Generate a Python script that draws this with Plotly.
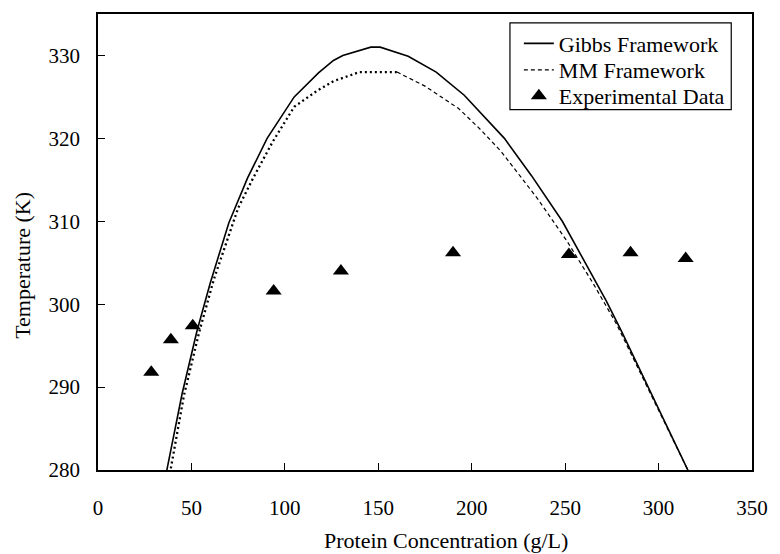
import plotly.graph_objects as go

# Gibbs framework curve
gibbs_x = [36.5, 45, 53, 60, 70, 80, 90.5, 105, 118, 126, 131, 146, 151, 166, 181, 196,
           217.5, 232, 248.5, 262, 272, 280, 294, 316.5]
gibbs_y = [279.6, 289.2, 296.8, 302.5, 309.8, 315.2, 320, 325, 327.9, 329.4, 330, 331, 331,
           329.9, 328, 325.2, 320, 315.5, 310, 304.5, 300.4, 296.8, 290.2, 279.6]

# MM framework curve: left (dotted) part and right (dashed) part
mm_left_x = [38.5, 46, 54, 62, 75, 83, 93.5, 105, 117, 126, 140, 160]
mm_left_y = [279.6, 289, 296.5, 303, 311.6, 315.2, 319.6, 323.8, 325.7, 326.9, 328, 328]
mm_right_x = [160, 175, 193, 205, 215.8, 235, 251, 265, 277.5, 295, 316.5]
mm_right_y = [328, 326.3, 323.6, 321, 318.4, 312.8, 307.6, 302.5, 297.6, 289.5, 279.6]

# Experimental data
exp_x = [28.5, 39, 50.7, 94, 130, 190, 252, 285, 314.5]
exp_y = [291.8, 295.7, 297.4, 301.6, 304, 306.2, 306, 306.2, 305.5]

x_ticks = [0, 50, 100, 150, 200, 250, 300, 350]
y_ticks = [280, 290, 300, 310, 320, 330]

FONT = "Liberation Serif, Times New Roman, serif"

# plot-area geometry (pixels) used to convert layout positions to paper coords
L, R, T, B = 98, 760, 12, 470
PW, PH = R - L, B - T


def px(x):
    return (x - L) / PW


def py(y):
    return (B - y) / PH


fig = go.Figure()
fig.add_trace(go.Scatter(x=gibbs_x, y=gibbs_y, mode="lines", name="Gibbs Framework",
                         legend="legend",
                         line=dict(color="black", width=1.6)))
fig.add_trace(go.Scatter(x=mm_right_x, y=mm_right_y, mode="lines", name="MM Framework",
                         legend="legend2",
                         line=dict(color="black", width=1.2, dash="4px,3px")))
fig.add_trace(go.Scatter(x=mm_left_x, y=mm_left_y, mode="lines", name="MM Framework",
                         showlegend=False,
                         line=dict(color="black", width=2.3, dash="2px,3px")))
fig.add_trace(go.Scatter(x=exp_x, y=exp_y, mode="markers", name="Experimental Data",
                         legend="legend3",
                         marker=dict(symbol="triangle-up", size=14, color="black")))

axis_common = dict(showgrid=False, zeroline=False, showline=True, linecolor="black",
                   linewidth=1.5, mirror=True, ticks="inside", ticklen=7,
                   tickwidth=1.3, tickcolor="black",
                   tickfont=dict(family=FONT, size=21, color="black"))

fig.update_xaxes(range=[0, 350], tickvals=x_ticks, ticklabelstandoff=18, **axis_common)
fig.update_yaxes(range=[280, 335], tickvals=y_ticks, ticklabelstandoff=12, **axis_common)

leg_common = dict(xanchor="left", yanchor="middle", bgcolor="rgba(0,0,0,0)",
                  borderwidth=0, font=dict(family=FONT, size=22, color="black"),
                  itemwidth=30)

fig.update_layout(
    width=780, height=554,
    margin=dict(l=L, r=780 - R, t=T, b=554 - B),
    paper_bgcolor="white", plot_bgcolor="white",
    font=dict(family=FONT, size=21, color="black"),
    showlegend=True,
    legend=dict(x=px(524), y=py(41.7), **leg_common),
    legend2=dict(x=px(524), y=py(68.3), **leg_common),
    legend3=dict(x=px(524), y=py(94.3), **leg_common),
    shapes=[dict(type="rect", xref="paper", yref="paper",
                 x0=px(515), x1=px(739), y0=py(108), y1=py(21),
                 line=dict(color="black", width=1.2), fillcolor="white", layer="below")],
    annotations=[
        dict(text="Protein Concentration (g/L)", xref="paper", yref="paper",
             x=px(450), y=py(541), xanchor="center", yanchor="middle",
             showarrow=False, font=dict(family=FONT, size=22, color="black")),
        dict(text="Temperature (K)", xref="paper", yref="paper",
             x=px(22), y=py(264), xanchor="center", yanchor="middle",
             textangle=-90, showarrow=False,
             font=dict(family=FONT, size=22, color="black")),
    ],
)

fig.write_html("out.html")
